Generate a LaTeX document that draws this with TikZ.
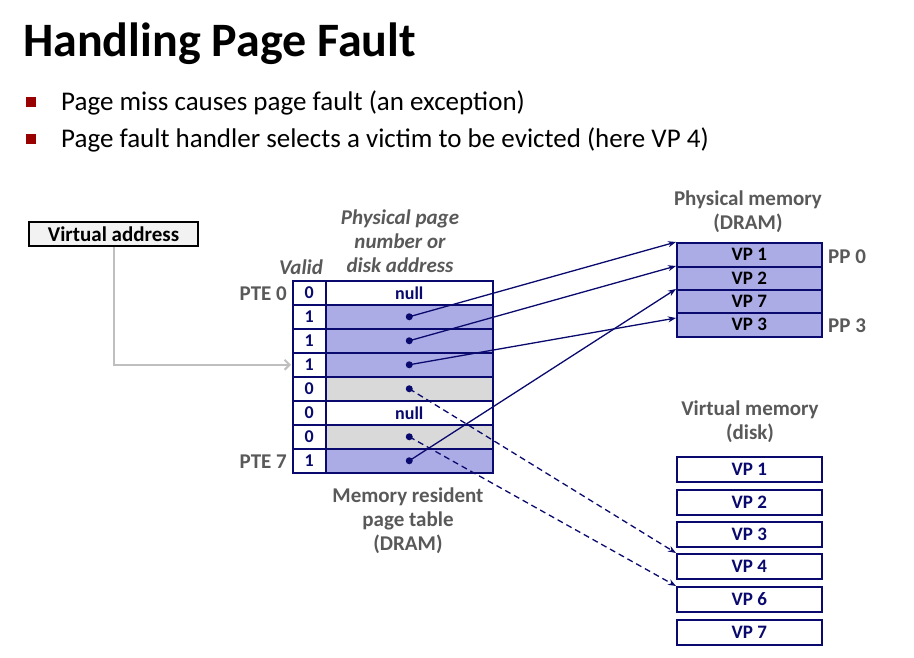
\documentclass[tikz,border=0pt]{standalone}
\usepackage{fontspec}
\setmainfont{Carlito}
\usetikzlibrary{arrows.meta,calc}
\definecolor{navy}{HTML}{0A0A6E}
\definecolor{lav}{HTML}{ABABE6}
\definecolor{lgray}{HTML}{D9D9D9}
\definecolor{tgray}{HTML}{595959}
\definecolor{bred}{HTML}{990000}
\definecolor{agray}{HTML}{BFBFBF}
\definecolor{vabox}{HTML}{F2F2F2}
\begin{document}
\begin{tikzpicture}[x=1pt,y=-1pt,
  cell/.style={draw=navy, line width=1.5pt, inner sep=0pt, anchor=north west, minimum height=24pt, text=navy, font=\fontsize{18}{20}\selectfont\bfseries},
  memcell/.style={draw=navy, line width=1.5pt, inner sep=0pt, anchor=north west, minimum width=145pt, font=\fontsize{19}{20}\selectfont\bfseries},
  lbl/.style={text=tgray, font=\fontsize{21}{24}\selectfont\bfseries, align=center, inner sep=0pt},
  bulletsq/.style={fill=bred, minimum size=10pt, inner sep=0pt},
  btext/.style={anchor=base west, inner sep=0pt, font=\fontsize{27}{30}\selectfont},
  parrow/.style={draw=navy, line width=1.3pt, -{Stealth[length=8pt,width=6pt]}},
  darrow/.style={parrow, dash pattern=on 6pt off 4pt},
  garrow/.style={draw=agray, line width=2pt, -{Straight Barb[length=5pt,width=10pt]}}
]
\useasboundingbox (0,0) rectangle (914,657);

% title and bullets
\node[anchor=base west, inner sep=0pt, font=\fontsize{48}{54}\selectfont\bfseries] (title) at (23,56) {Handling Page Fault};
\node[bulletsq] (b1) at (31,102) {};
\node[btext] (t1) at (61,110) {Page miss causes page fault (an exception)};
\node[bulletsq] (b2) at (31,139) {};
\node[btext] (t2) at (61,147) {Page fault handler selects a victim to be evicted (here VP 4)};

% page table
\foreach \i/\v/\f/\t in {0/0/white/null,1/1/lav/,2/1/lav/,3/1/lav/,4/0/lgray/,5/0/white/null,6/0/lgray/,7/1/lav/}{
  \node[cell, fill=white, minimum width=33pt] (v\i) at (292,{280+24*\i}) {\v};
  \node[cell, fill=\f, minimum width=167pt] (p\i) at (325,{280+24*\i}) {\t};
}
\foreach \i in {1,2,3,4,6,7}{ \fill[navy] (p\i.center) circle (3.5pt); }

\node[lbl, font=\fontsize{21}{24}\selectfont\bfseries\itshape] (ppnlbl) at (400,241) {Physical page\\number or\\disk address};
\node[lbl, font=\fontsize{21}{24}\selectfont\bfseries\itshape] (validlbl) at (301,267) {Valid};
\node[lbl, anchor=east] (pte0) at (287,294) {PTE 0};
\node[lbl, anchor=east] (pte7) at (287,462) {PTE 7};
\node[lbl] (mrlbl) at (408,521) {Memory resident\\page table\\(DRAM)};

% virtual address
\node[draw=black, line width=1.2pt, fill=vabox, minimum width=169pt, minimum height=24pt, inner sep=0pt, font=\fontsize{21}{22}\selectfont\bfseries] (va) at (113.5,234) {Virtual address};
\draw[garrow, shorten >=1pt] (va.south) |- (v3.west);

% physical memory
\node[lbl] (pmlbl) at (748,212) {Physical memory\\(DRAM)};
\node[memcell, fill=lav, minimum height=24pt] (m0) at (676,242) {VP 1};
\node[memcell, fill=lav, minimum height=23pt] (m1) at (676,266) {VP 2};
\node[memcell, fill=lav, minimum height=23pt] (m2) at (676,289) {VP 7};
\node[memcell, fill=lav, minimum height=24pt] (m3) at (676,312) {VP 3};
\node[lbl, anchor=west] (pp0) at (828,257) {PP 0};
\node[lbl, anchor=west] (pp3) at (828,326) {PP 3};
\coordinate (m3a) at ($(m3.north west)+(0,6)$);

% virtual memory (disk)
\node[lbl] (vmlbl) at (750,422) {Virtual memory\\(disk)};
\foreach \n/\y in {1/456,2/489,3/521,4/553,6/586,7/619}{
  \node[memcell, fill=white, minimum height=25pt, text=navy] (k\n) at (676,\y) {VP \n};
}

% pointers
\draw[parrow] (p1.center) -- (m0.north west);
\draw[parrow] (p2.center) -- (m1.north west);
\draw[parrow] (p3.center) -- (m3a);
\draw[parrow] (p7.center) -- (m2.north west);
\draw[darrow] (p4.center) -- (k4.north west);
\draw[darrow] (p6.center) -- (k6.north west);
\end{tikzpicture}
\end{document}
